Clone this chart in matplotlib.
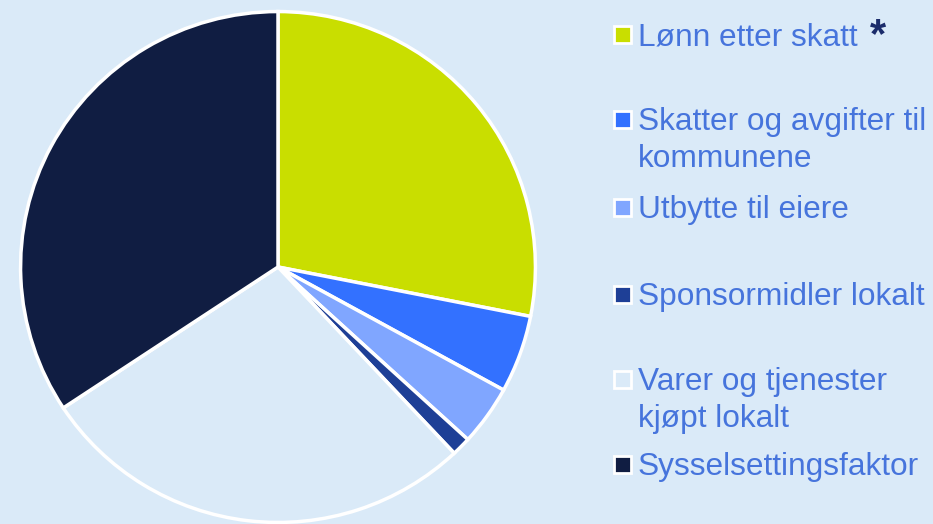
import matplotlib.pyplot as plt
from matplotlib.patches import Rectangle

plt.rcParams['font.family'] = ['Liberation Sans', 'DejaVu Sans']

# share of each post
labels = ['Lønn etter skatt', 'Skatter og avgifter til\nkommunene', 'Utbytte til eiere',
          'Sponsormidler lokalt', 'Varer og tjenester\nkjøpt lokalt', 'Sysselsettingsfaktor']
values = [28.1, 4.9, 3.8, 1.2, 27.7, 34.3]
colors = ['#C9DE00', '#3371FF', '#80A6FF', '#1E3F96', '#DAEAF8', '#101D42']

bg = '#DAEAF8'
text_color = '#4674DC'

W, H = 933, 524
fig = plt.figure(figsize=(W / 100, H / 100), dpi=100)
fig.patch.set_facecolor(bg)

# pie, centred at (278, 267) px, slightly wider than tall like the original
cx, cy, rx, ry = 278, 267, 260, 258
ax = fig.add_axes([(cx - rx) / W, (H - cy - ry) / H, 2 * rx / W, 2 * ry / H])
ax.set_facecolor(bg)
ax.pie(values, colors=colors, startangle=90, counterclock=False, radius=1,
       wedgeprops=dict(edgecolor='white', linewidth=2.5))
ax.set_xlim(-1.01, 1.01)
ax.set_ylim(-1.01, 1.01)
ax.set_aspect('auto')
ax.axis('off')

# legend drawn in pixel coordinates
lax = fig.add_axes([0, 0, 1, 1])
lax.set_xlim(0, W)
lax.set_ylim(H, 0)
lax.axis('off')
lax.patch.set_alpha(0)

baselines = [45, 130, 218, 305, 390, 475]
for lab, col, yb in zip(labels, colors, baselines):
    lax.add_patch(Rectangle((614, yb - 19), 17, 17, facecolor=col,
                            edgecolor='white', linewidth=2))
    for i, line in enumerate(lab.split('\n')):
        lax.text(638, yb + 37 * i, line, fontsize=22.8, color=text_color,
                 va='baseline', ha='left')

lax.text(870, 16, '*', fontsize=30, fontweight='bold', color='#1B2C6B',
         va='top', ha='left')

fig.savefig('out.png', dpi=100, facecolor=bg)
